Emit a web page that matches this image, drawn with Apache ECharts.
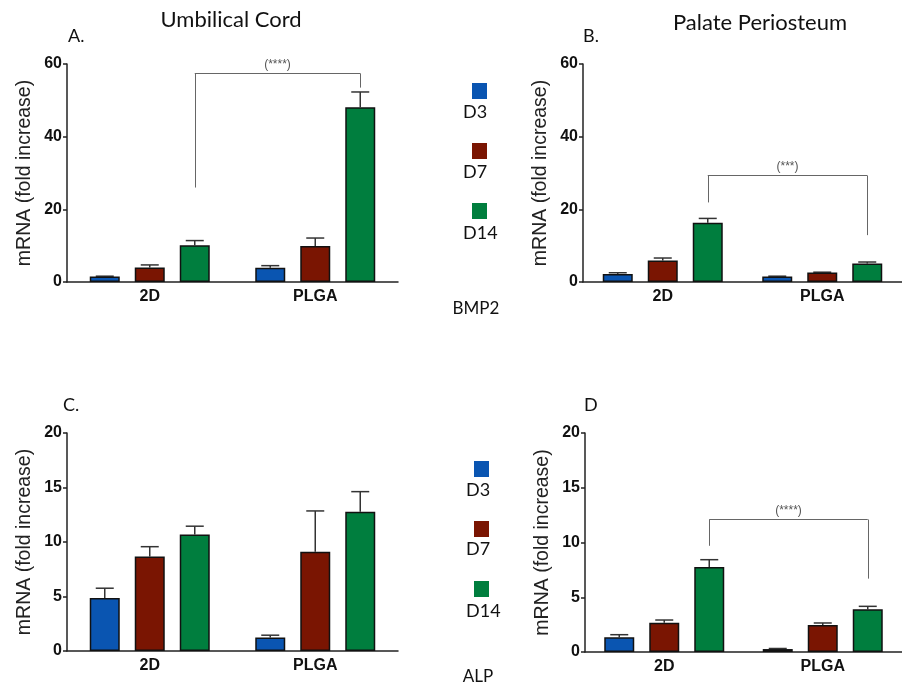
<!DOCTYPE html>
<html lang="en">
  <head>
    <meta charset="UTF-8" />
    <title>BMP2 / ALP mRNA</title>
    <style>
      html, body { margin: 0; width: 100%; height: 100%; background: #fff; }
      #chart { width: 902px; height: 688px; }
    </style>
    <script src="https://cdn.jsdelivr.net/npm/echarts@6/dist/echarts.min.js"></script>
  </head>
  <body>
    <div id="chart"></div>
    <script>
      const categories = ['2D', 'PLGA']
      const days = ['D3', 'D7', 'D14']
      const dayColors = ['#0a55b1', '#7a1502', '#007e3e']

      // means per day (D3, D7, D14), each [2D, PLGA]
      const bmp2CordMean = [[1.5, 3.9], [4.0, 9.9], [10.1, 48.1]]
      const bmp2CordErr = [[0.1, 0.6], [0.7, 2.2], [1.3, 4.2]]
      const bmp2PalateMean = [[2.2, 1.5], [5.9, 2.6], [16.3, 5.1]]
      const bmp2PalateErr = [[0.35, 0.1], [0.7, 0.1], [1.2, 0.4]]
      const alpCordMean = [[4.86, 1.25], [8.67, 9.1], [10.69, 12.77]]
      const alpCordErr = [[0.9, 0.2], [0.9, 3.75], [0.76, 1.85]]
      const alpPalateMean = [[1.34, 0.27], [2.68, 2.47], [7.76, 3.9]]
      const alpPalateErr = [[0.24, 0.05], [0.24, 0.18], [0.67, 0.27]]

      // significance brackets: [left end, top, right end, label]
      const bracketA = [26, 57.4, 53.5, '(****)']
      const bracketB = [21.9, 29.3, 12.9, '(***)']
      const bracketD = [9.7, 12.1, 6.7, '(****)']

      const BAR_W = 30
      const BAR_STEP = BAR_W * 1.5

      const grids = [
        { left: 67, top: 64, width: 331, height: 218 },
        { left: 583, top: 64, width: 329, height: 218 },
        { left: 67, top: 433, width: 331, height: 218 },
        { left: 585, top: 433, width: 329, height: 219 }
      ]
      const yMax = [60, 60, 20, 20]
      const yStep = [20, 20, 5, 5]
      const panels = [
        [bmp2CordMean, bmp2CordErr, bracketA],
        [bmp2PalateMean, bmp2PalateErr, bracketB],
        [alpCordMean, alpCordErr, null],
        [alpPalateMean, alpPalateErr, bracketD]
      ]

      const axisColor = '#222'
      const xAxis = grids.map((g, i) => ({
        type: 'category',
        gridIndex: i,
        data: categories,
        axisLine: { lineStyle: { color: axisColor, width: 1.5 } },
        axisTick: { show: false },
        axisLabel: {
          color: '#111',
          fontFamily: 'Liberation Sans',
          fontWeight: 'bold',
          fontSize: 16,
          margin: 7
        }
      }))
      const yAxis = grids.map((g, i) => ({
        type: 'value',
        gridIndex: i,
        min: 0,
        max: yMax[i],
        interval: yStep[i],
        name: 'mRNA (fold increase)',
        nameLocation: 'middle',
        nameGap: 32,
        nameTextStyle: { fontFamily: 'Liberation Sans', fontSize: 19.5, color: '#222' },
        axisLine: { show: true, lineStyle: { color: axisColor, width: 1.5 } },
        axisTick: { show: true, length: 4, lineStyle: { color: axisColor, width: 1.5 } },
        splitLine: { show: false },
        axisLabel: {
          color: '#111',
          fontFamily: 'Liberation Sans',
          fontWeight: 'bold',
          fontSize: 16,
          margin: 5
        }
      }))

      function bracketLines(b) {
        const ls = { color: '#666', width: 1, type: 'solid' }
        return {
          silent: true,
          symbol: ['none', 'none'],
          animation: false,
          lineStyle: ls,
          label: { show: false },
          data: [
            [{ coord: [categories[0], b[0]] }, { coord: [categories[0], b[1]] }],
            [
              {
                coord: [categories[0], b[1]],
                label: {
                  show: true,
                  position: 'middle',
                  formatter: b[3],
                  fontSize: 12,
                  color: '#555',
                  distance: 3
                }
              },
              { coord: [categories[1], b[1]] }
            ],
            [{ coord: [categories[1], b[1]] }, { coord: [categories[1], b[2]] }]
          ]
        }
      }

      const series = []
      panels.forEach((p, gi) => {
        const [mean, err, bracket] = p
        days.forEach((d, di) => {
          const s = {
            name: d,
            type: 'bar',
            xAxisIndex: gi,
            yAxisIndex: gi,
            barWidth: BAR_W,
            barGap: '50%',
            data: mean[di],
            itemStyle: { color: dayColors[di], borderColor: '#111', borderWidth: 1.5 },
            emphasis: { disabled: true }
          }
          if (di === 2 && bracket) s.markLine = bracketLines(bracket)
          series.push(s)
        })
        const errData = []
        days.forEach((d, di) => {
          categories.forEach((c, ci) => errData.push([ci, mean[di][ci], err[di][ci], di]))
        })
        series.push({
          type: 'custom',
          xAxisIndex: gi,
          yAxisIndex: gi,
          silent: true,
          z: 1,
          data: errData,
          encode: { x: 0, y: 1 },
          renderItem(params, api) {
            const base = api.coord([api.value(0), api.value(1)])
            const top = api.coord([api.value(0), api.value(1) + api.value(2)])
            const x = base[0] + (api.value(3) - 1) * BAR_STEP
            const st = { stroke: '#333', lineWidth: 1.5 }
            return {
              type: 'group',
              children: [
                { type: 'line', shape: { x1: x, y1: base[1], x2: x, y2: top[1] }, style: st },
                { type: 'line', shape: { x1: x - 9, y1: top[1], x2: x + 9, y2: top[1] }, style: st }
              ]
            }
          }
        })
      })

      const txt = (x, y, text, size, align) => ({
        type: 'text',
        x,
        y,
        style: { text, font: size + 'px Lato', fill: '#111', align: align || 'left', verticalAlign: 'middle' }
      })
      const graphic = [
        txt(231, 20, 'Umbilical Cord', 22, 'center'),
        txt(760, 23, 'Palate Periosteum', 22, 'center'),
        txt(68, 36, 'A.', 18),
        txt(583, 36, 'B.', 18),
        txt(63, 405, 'C.', 18),
        txt(584, 405, 'D', 18),
        txt(476, 309, 'BMP2', 17, 'center'),
        txt(478, 677, 'ALP', 17, 'center')
      ]
      const topLabelY = [112, 172, 233]
      const botLabelY = [490, 549, 611]
      days.forEach((d, i) => {
        graphic.push(txt(463, topLabelY[i], d, 18))
        graphic.push(txt(466, botLabelY[i], d, 18))
      })

      const legendBase = {
        orient: 'vertical',
        data: days,
        icon: 'rect',
        itemWidth: 15,
        itemHeight: 16,
        itemGap: 44,
        selectedMode: false,
        formatter: () => '',
        itemStyle: { borderWidth: 0 }
      }

      const chart = echarts.init(document.getElementById('chart'))
      chart.setOption({
        animation: false,
        grid: grids,
        xAxis,
        yAxis,
        legend: [
          Object.assign({}, legendBase, { left: 467, top: 78 }),
          Object.assign({}, legendBase, { left: 469, top: 456 })
        ],
        graphic,
        series
      })
    </script>
  </body>
</html>
